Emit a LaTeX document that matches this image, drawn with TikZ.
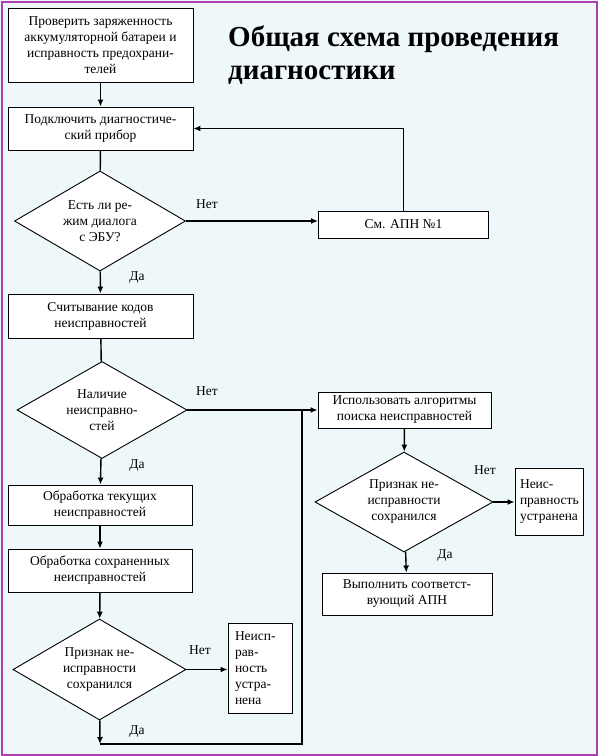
\documentclass[tikz,border=0pt]{standalone}
\usepackage{fontspec}
\setmainfont{Liberation Serif}
\usetikzlibrary{shapes.geometric,arrows.meta}

\definecolor{fon}{RGB}{238,247,249}
\definecolor{ramka}{RGB}{176,64,176}

\tikzset{
  blok/.style={draw, line width=0.9pt, fill=white, align=center, inner sep=2pt,
    font=\fontsize{13.5}{16}\selectfont},
  romb/.style={draw, diamond, aspect=1.7, line width=0.9pt, fill=white, align=center, inner sep=0pt,
    font=\fontsize{13.5}{16}\selectfont},
  metka/.style={font=\fontsize{13.5}{15}\selectfont},
  strelka/.style={line width=1.4pt, -{Latex[length=7pt,width=6pt]}},
  liniya/.style={line width=1.4pt}
}

\begin{document}
\begin{tikzpicture}[x=1pt, y=-1pt]
\useasboundingbox (0,0) rectangle (598,756);
\fill[fon] (0,0) rectangle (598,756);
\draw[ramka, line width=2pt] (1.5,1.5) rectangle (596.5,754.5);

% title
\node[anchor=base west, inner sep=0pt, font=\bfseries\fontsize{29}{35}\selectfont] (zag1) at (228,46) {Общая схема проведения};
\node[anchor=base west, inner sep=0pt, font=\bfseries\fontsize{29}{35}\selectfont] (zag2) at (228,79) {диагностики};

% left column
\node[blok, minimum width=185pt, minimum height=74pt] (b1) at (100.5,45) {Проверить заряженность\\аккумуляторной батареи и\\исправность предохрани-\\телей};
\node[blok, minimum width=185pt, minimum height=43pt] (b2) at (100.5,128.5) {Подключить диагностиче-\\ский прибор};
\node[romb, minimum width=171pt, minimum height=100pt] (d1) at (100,221) {Есть ли ре-\\жим диалога\\с ЭБУ?};
\node[blok, minimum width=170pt, minimum height=27pt] (apn) at (403.5,224.5) {См. АПН №1};
\node[blok, minimum width=185pt, minimum height=44pt] (b3) at (100.5,316) {Считывание кодов\\неисправностей};
\node[romb, minimum width=170pt, minimum height=97pt] (d2) at (102,410) {Наличие\\неисправно-\\стей};
\node[blok, minimum width=184pt, minimum height=40pt] (b4) at (100,505) {Обработка текущих\\неисправностей};
\node[blok, minimum width=184pt, minimum height=43pt] (b5) at (100,570.5) {Обработка сохраненных\\неисправностей};
\node[romb, minimum width=173pt, minimum height=101pt] (d3) at (99.5,669.5) {Признак не-\\исправности\\сохранился};
\node[blok, align=left, minimum width=64pt, minimum height=90pt, text width=50pt, inner xsep=7pt] (u1) at (260,668) {Неисп-\\рав-\\ность\\устра-\\нена};

% right column
\node[blok, minimum width=173pt, minimum height=36pt] (b6) at (404.5,410) {Использовать алгоритмы\\поиска неисправностей};
\node[romb, minimum width=178pt, minimum height=100pt] (d4) at (404,502) {Признак не-\\исправности\\сохранился};
\node[blok, align=left, minimum width=68pt, minimum height=67pt, text width=58pt, inner xsep=5pt] (u2) at (549,501.5) {Неис-\\правность\\устранена};
\node[blok, minimum width=170pt, minimum height=42pt] (b7) at (407,594) {Выполнить соответст-\\вующий АПН};

\coordinate (j) at (100,744);
\coordinate (v) at (302,410);

% connectors
\draw[strelka] (b1) -- (b2);
\draw[liniya] (b2) -- (d1);
\draw[strelka] (d1.east) -- (d1.east -| apn.west);
\draw[strelka] (apn.north) |- (b2.east);
\draw[strelka] (d1) -- (b3);
\draw[liniya] (b3) -- (d2);
\draw[strelka] (d2.east) -- (d2.east -| b6.west);
\draw[strelka] (d2) -- (b4);
\draw[strelka] (b4) -- (b5);
\draw[strelka] (b5) -- (d3);
\draw[strelka] (d3.east) -- (d3.east -| u1.west);
\draw[strelka] (d3) -- (j);
\draw[liniya] (j) -| (v);
\draw[strelka] (b6) -- (d4);
\draw[strelka] (d4.east) -- (d4.east -| u2.west);
\draw[strelka] (d4) -- (b7);

% labels
\node[metka] (n1) at (207,204) {Нет};
\node[metka] (y1) at (137,278) {Да};
\node[metka] (n2) at (207,391) {Нет};
\node[metka] (y2) at (137,466) {Да};
\node[metka] (n3) at (200,650) {Нет};
\node[metka] (y3) at (137,732) {Да};
\node[metka] (n4) at (485,470) {Нет};
\node[metka] (y4) at (445,556) {Да};
\end{tikzpicture}
\end{document}
